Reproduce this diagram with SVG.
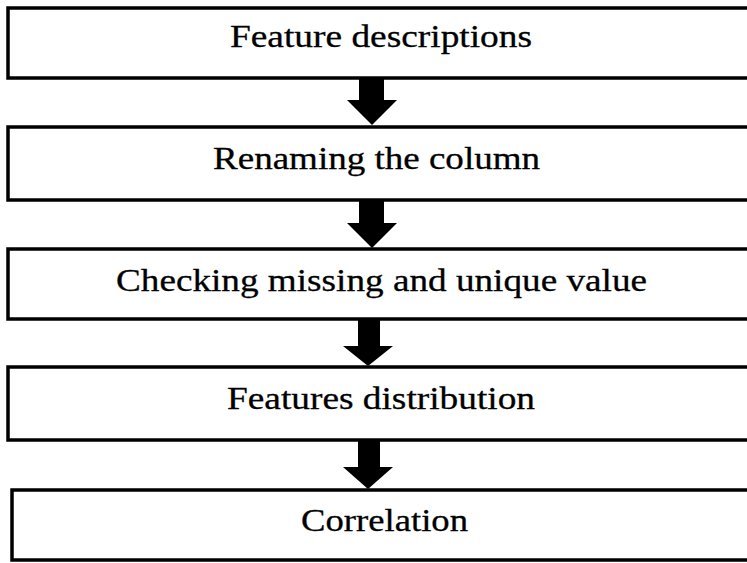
<svg xmlns="http://www.w3.org/2000/svg" width="747" height="563" viewBox="0 0 747 563">
<defs>
<style>
.box{fill:#fff;stroke:#000;stroke-width:3.5}
.lbl{font-family:"Liberation Serif","Times New Roman",serif;font-size:32px;fill:#000;stroke:#000;stroke-width:0.3;text-anchor:middle}
.arr{fill:#000}
</style>
</defs>
<rect width="747" height="563" fill="#fff"/>
<g id="n1"><rect class="box" x="8" y="8" width="760" height="70"/><text class="lbl" x="381" y="47" textLength="302" lengthAdjust="spacingAndGlyphs">Feature descriptions</text></g>
<g id="n2"><rect class="box" x="8" y="127" width="760" height="73"/><text class="lbl" x="376.5" y="169" textLength="327" lengthAdjust="spacingAndGlyphs">Renaming the column</text></g>
<g id="n3"><rect class="box" x="8" y="249" width="760" height="70"/><text class="lbl" x="381.5" y="291" textLength="531" lengthAdjust="spacingAndGlyphs">Checking missing and unique value</text></g>
<g id="n4"><rect class="box" x="8" y="367" width="760" height="73"/><text class="lbl" x="381" y="409" textLength="308" lengthAdjust="spacingAndGlyphs">Features distribution</text></g>
<g id="n5"><rect class="box" x="12" y="490" width="760" height="70"/><text class="lbl" x="384.5" y="531" textLength="167" lengthAdjust="spacingAndGlyphs">Correlation</text></g>
<g id="connectors">
<polygon class="arr" points="359,79 384,79 384,100 397,100 372,125 347,100 359,100"/>
<polygon class="arr" points="359,201 384,201 384,223 397,223 372,248 347,223 359,223"/>
<polygon class="arr" points="358,320 380,320 380,346 393,346 368,366 343,346 358,346"/>
<polygon class="arr" points="358,441 380,441 380,467 393,467 368,489 343,467 358,467"/>
</g>
</svg>
